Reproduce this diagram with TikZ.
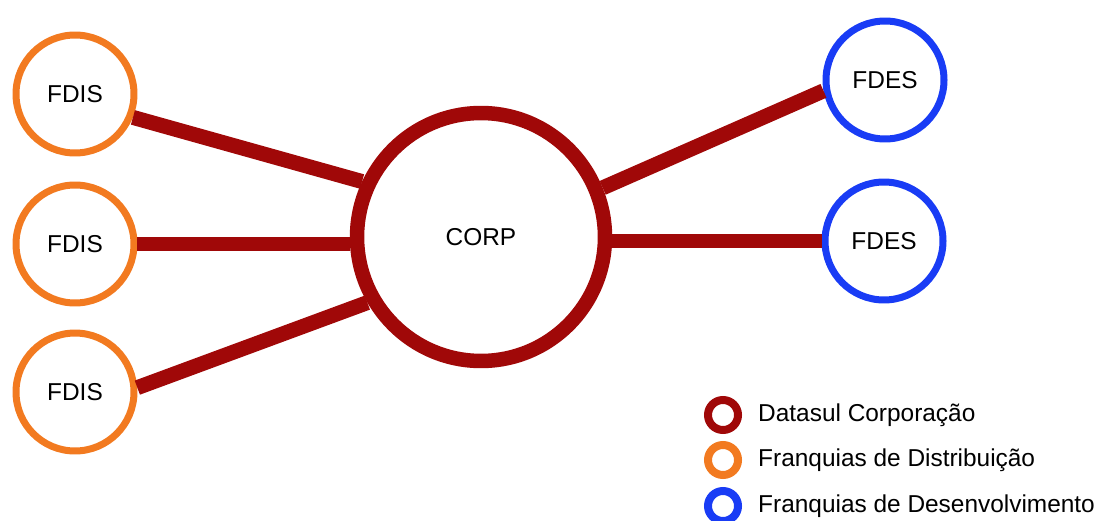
\documentclass[tikz,border=0pt]{standalone}
\usepackage{fontspec}
\setmainfont{Liberation Sans}
\usepackage{tikz}

\definecolor{corpred}{RGB}{160,8,8}
\definecolor{fdisorange}{RGB}{242,122,32}
\definecolor{fdesblue}{RGB}{25,60,245}

\tikzset{
    corp/.style={circle, draw=corpred, line width=0.29cm, minimum size=4.96cm, inner sep=0},
    fdis/.style={circle, draw=fdisorange, line width=0.14cm, minimum size=2.36cm, inner sep=0},
    fdes/.style={circle, draw=fdesblue, line width=0.14cm, minimum size=2.36cm, inner sep=0},
    link/.style={line width=0.3cm, corpred},
    key/.style={circle, line width=0.16cm, minimum size=0.6cm, inner sep=0},
    keytext/.style={xshift=0.2cm}
}

\begin{document}
\begin{tikzpicture}[x=0.02cm, y=-0.02cm, font=\fontsize{13.9}{16}\selectfont]
\useasboundingbox (0,0) rectangle (1104,520);
                \node[corp](C) at (481,237) {CORP};
                \node[fdis](L1) at (75,94) {FDIS};
                \node[fdis](L2) at (75,244) {FDIS};
                \node[fdis](L3) at (75,392) {FDIS};
                \node[fdes](R1) at (885,80) {FDES};
                \node[fdes](R2) at (884,241) {FDES};
\draw[link] (L1.-22) -- (C.155);
\draw[link] (L2.east) -- (L2.east -| C.west);
\draw[link] (L3.4) -- (C.210);
\draw[link] (C.22) -- (R1.190);
\draw[link] (C.east |- R2.west) -- (R2.west);
                                    \node[key, draw=corpred, label={[name=keycorp, keytext]right:Datasul Corporação}](K1) at (723,415) {};
                                    \node[key, draw=fdisorange, label={[name=keyfdis, keytext]right:Franquias de Distribuição}](K2) at (723,460) {};
                                    \node[key, draw=fdesblue, label={[name=keyfdes, keytext]right:Franquias de Desenvolvimento}](K3) at (723,506) {};

        \end{tikzpicture}
\end{document}
